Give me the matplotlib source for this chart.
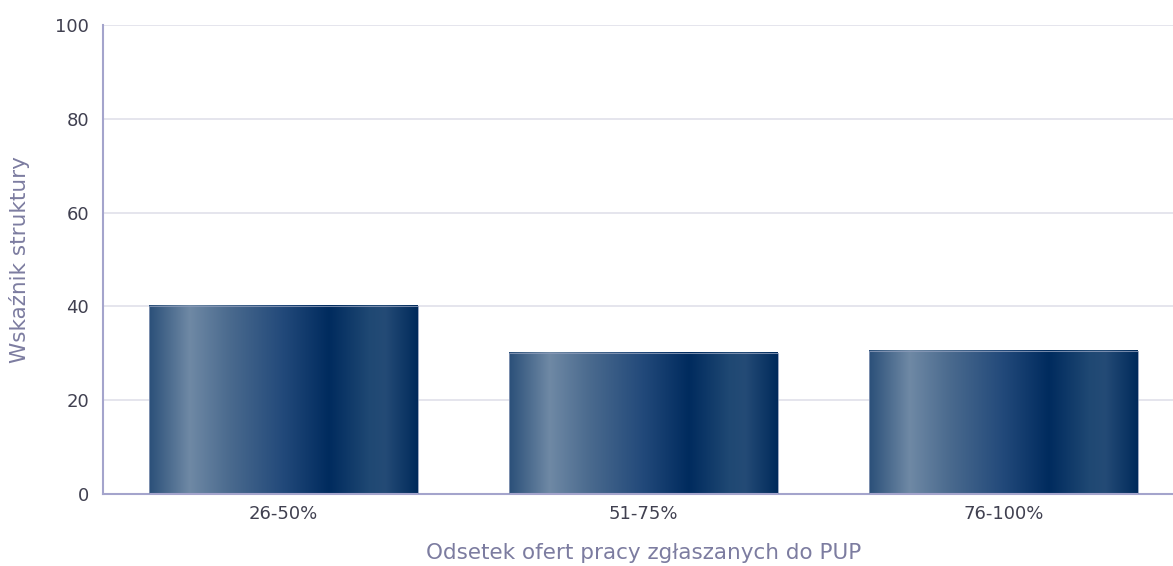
import numpy as np
import matplotlib
matplotlib.use("Agg")
import matplotlib.pyplot as plt
from matplotlib.colors import LinearSegmentedColormap

# dane
categories = ["26-50%", "51-75%", "76-100%"]
values = [40.1, 30.1, 30.5]
y_ticks = [0, 20, 40, 60, 80, 100]
x_label = "Odsetek ofert pracy zgłaszanych do PUP"
y_label = "Wskaźnik struktury"

# gradient słupków (poziomy)
grad = LinearSegmentedColormap.from_list("bar_grad", [
    (0.00, "#2b5079"),
    (0.15, "#6f89a5"),
    (0.30, "#4a6a8e"),
    (0.50, "#22497a"),
    (0.67, "#002b5e"),
    (0.82, "#1f4873"),
    (0.88, "#244b76"),
    (1.00, "#002a5b"),
])

fig = plt.figure(figsize=(11.73, 5.66), dpi=100)
ax = fig.add_axes([103 / 1173, 72 / 566, 1081 / 1173, 469 / 566])

bar_w = 0.746
xs = np.arange(len(categories))
g = np.linspace(0, 1, 256).reshape(1, -1)
for x, v in zip(xs, values):
    ax.imshow(g, cmap=grad, aspect="auto", interpolation="bilinear",
              extent=(x - bar_w / 2, x + bar_w / 2, 0, v), zorder=2)
    ax.bar(x, v, width=bar_w, facecolor="none", edgecolor="#8a9ab8",
           linewidth=0.6, zorder=3)

ax.set_xlim(-0.5, len(categories) - 0.5)
ax.set_ylim(0, 100)
ax.set_xticks(xs)
ax.set_xticklabels(categories)
ax.set_yticks(y_ticks)

ax.grid(axis="y", color="#e0e0ea", linewidth=1.2, zorder=0)
ax.set_axisbelow(True)
for s in ["top", "right"]:
    ax.spines[s].set_visible(False)
ax.spines["left"].set_color("#a4a4cc")
ax.spines["bottom"].set_color("#a4a4cc")
ax.spines["left"].set_linewidth(1.5)
ax.spines["bottom"].set_linewidth(1.5)
ax.tick_params(length=0, labelsize=13, labelcolor="#404050")
ax.tick_params(axis="x", pad=8)
ax.tick_params(axis="y", pad=10)

ax.set_xlabel(x_label, fontsize=15.5, color="#7c7ca0", va="center")
ax.set_ylabel(y_label, fontsize=15.5, color="#7c7ca0", va="center")
ax.xaxis.set_label_coords(0.5, (494 - 553) / 469)
ax.yaxis.set_label_coords((20 - 103) / 1081, 0.5)

fig.savefig("out.png", dpi=100)
